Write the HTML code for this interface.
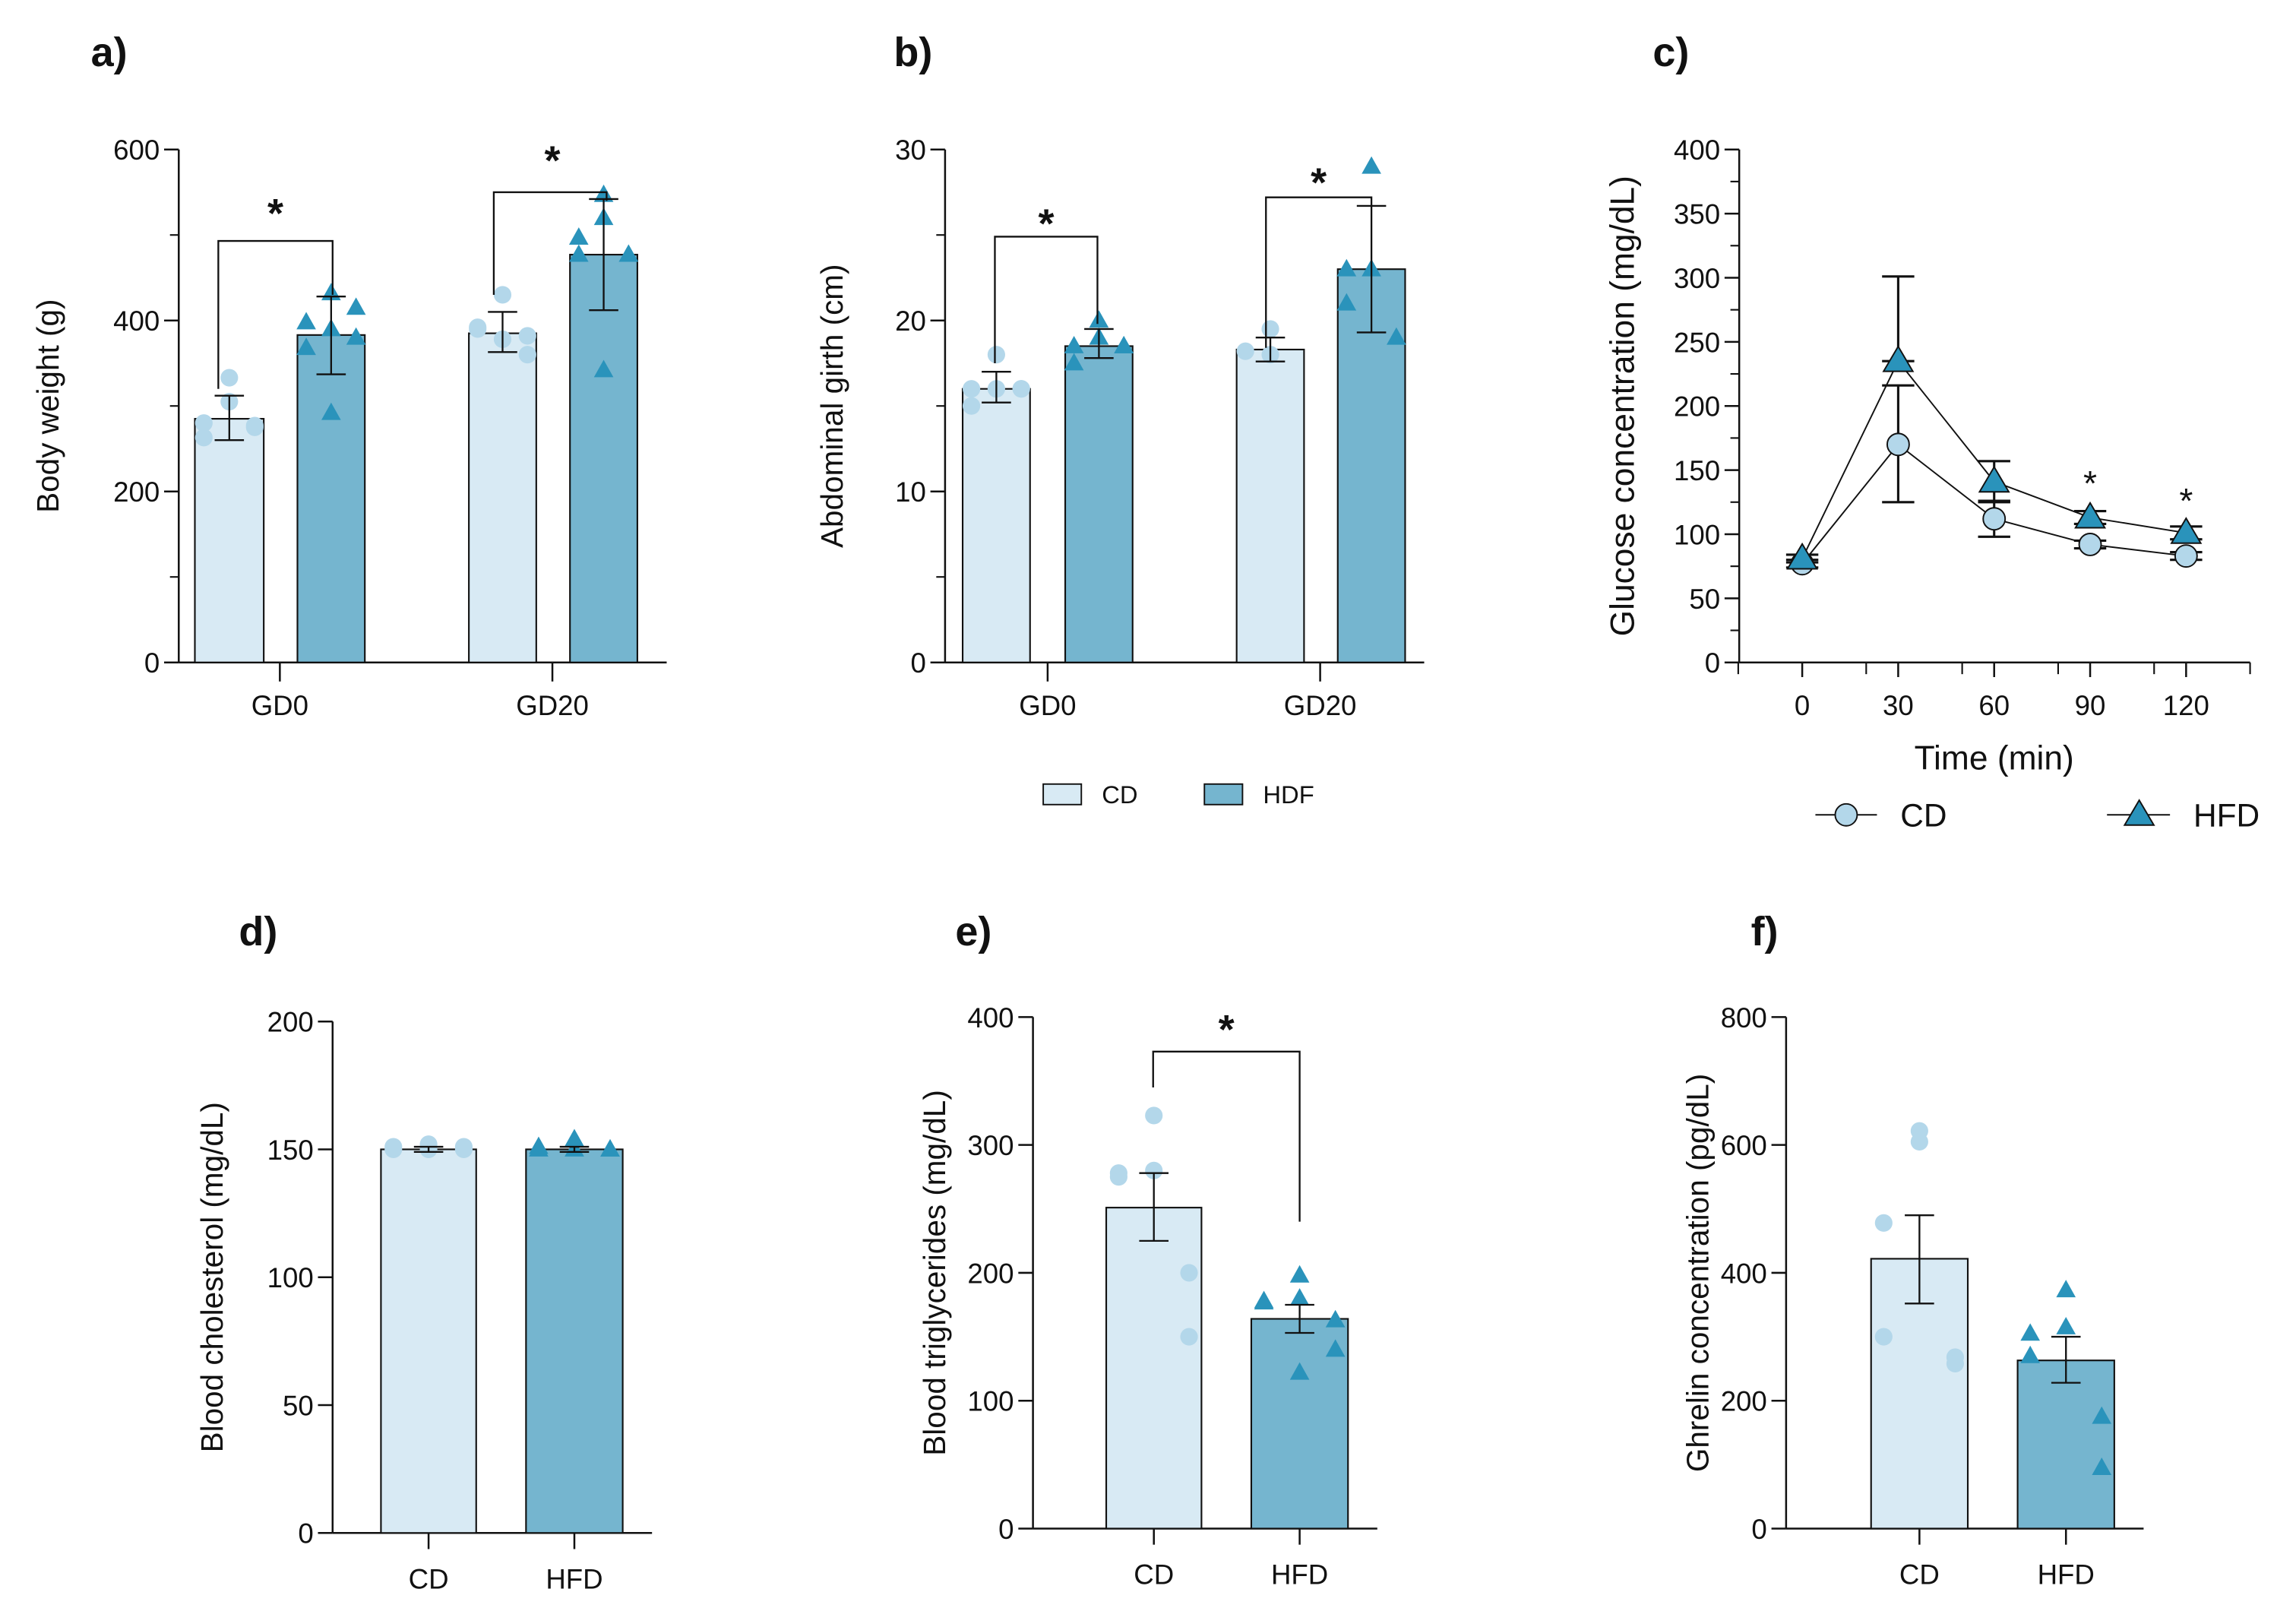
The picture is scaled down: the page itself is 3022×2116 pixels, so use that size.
<!DOCTYPE html>
<html><head><meta charset="utf-8">
<style>
html,body{margin:0;padding:0;background:#fff;}
svg{display:block;font-family:"Liberation Sans",Arial,sans-serif;}
</style></head>
<body>
<svg id="fig" width="3022" height="2116" viewBox="0 0 1567 1097.2" xmlns="http://www.w3.org/2000/svg"></svg>
<script>
// ---------- data ----------
const groupsA = ["GD0","GD20"];
const aCDMean = [285, 385], aCDLo = [260, 363], aCDHi = [312, 410];
const aHFMean = [383, 477], aHFLo = [337, 412], aHFHi = [428, 542];
const aCDPts = [[333,305,280,263,275,277],[430,378,392,390,360,382]];
const aHFPts = [[432,390,398,368,415,380,292],[547,520,497,477,477,477,342]];
const aTicks = [0,200,400,600];

const bCDMean = [16, 18.3], bCDLo = [15.2, 17.6], bCDHi = [17, 19];
const bHFMean = [18.5, 23], bHFLo = [17.8, 19.3], bHFHi = [19.5, 26.7];
const bCDPts = [[18,16,16,15,16,16],[19.5,18,18.2]];
const bHFPts = [[20,19,18.5,17.5,18.5,18.5],[29,23,23,21,19]];
const bTicks = [0,10,20,30];

const cTimes = [0,30,60,90,120];
const cCD = [77,170,112,92,83], cCDLo = [74,125,98,89,80], cCDHi = [80,216,126,95,86];
const cHF = [81,235,141,113,101], cHFLo = [78,235,125,108,96], cHFHi = [84,301,157,118,106];
const cYTicks = [0,50,100,150,200,250,300,350,400];
const cXTicks = [0,30,60,90,120];

const dGroups = ["CD","HFD"];
const dMean = [150,150], dLo = [149,149], dHi = [151,151];
const dPts = [[150,152,150,151,150,151],[154,150,151,150,150,150]];
const dTicks = [0,50,100,150,200];

const eMean = [251,164], eLo = [225,153], eHi = [278,175];
const ePts = [[323,280,278,275,200,150],[198,180,178,177,163,140,122]];
const eTicks = [0,100,200,300,400];

const fMean = [422,263], fLo = [352,228], fHi = [490,300];
const fPts = [[622,605,478,300,268,258],[373,315,305,270,175,95]];
const fTicks = [0,200,400,600,800];

// ---------- helpers ----------
const NS = "http://www.w3.org/2000/svg";
const svg = document.getElementById('fig');
const LIGHT="#d8eaf4", DARK="#75b5cf", LPT="#b3d7ea", DPT="#2a93bb";
function el(tag, attrs, parent){
  const e=document.createElementNS(NS,tag);
  for(const k in attrs) e.setAttribute(k,attrs[k]);
  (parent||svg).appendChild(e); return e;
}
function txt(x,y,s,size,anchor,weight,parent,rot){
  const t=el('text',{x:x,y:y,'font-size':size,'text-anchor':anchor||'middle','font-weight':weight||'normal',fill:'#111'},parent);
  if(rot) t.setAttribute('transform',`rotate(-90 ${x} ${y})`);
  t.textContent=s; return t;
}
function line(x1,y1,x2,y2,w,parent){return el('line',{x1:x1,y1:y1,x2:x2,y2:y2,stroke:'#111','stroke-width':w||1.2},parent);}
function tri(cx,cy,r,fill,parent){
  return el('polygon',{points:`${cx},${cy-r} ${cx-r*0.95},${cy+r*0.7} ${cx+r*0.95},${cy+r*0.7}`,fill:fill,stroke:'none'},parent);
}
const jit=[0,0,-17,-17,17,17,0];

function yAxis(g,ax,y0,ytop,max,ticks,minor,title,titleX,titleSize){
  const ys=v=>y0-(v/max)*(y0-ytop);
  line(ax,ytop,ax,y0,1.3,g);
  ticks.forEach(v=>{line(ax-10,ys(v),ax,ys(v),1.3,g);
    const t=txt(ax-13,ys(v)+7,String(v),19,'end','normal',g);
    
    });
  minor.forEach(v=>line(ax-6,ys(v),ax,ys(v),1.1,g));
  const tt=txt(titleX,(y0+ytop)/2,title,titleSize||21,'middle','normal',g,true);
  
  
  return ys;
}
function barWithPts(g,ys,x1,x2,mean,lo,hi,pts,fill,ptFill,shape){
  const b=el('rect',{x:x1,y:ys(mean),width:x2-x1,height:ys(0)-ys(mean),fill:fill,stroke:'#111','stroke-width':1.1},g);
  
  
  const cx=(x1+x2)/2;
  pts.forEach((v,i)=>{
    const px=cx+jit[i%jit.length]*(x2-x1)/46;
    const p = shape==='tri'? tri(px,ys(v),7,ptFill,g) : el('circle',{cx:px,cy:ys(v),r:6,fill:ptFill},g);
    
    
  });
  line(cx,ys(lo),cx,ys(hi),1.2,g);
  line(cx-10,ys(lo),cx+10,ys(lo),1.2,g);
  line(cx-10,ys(hi),cx+10,ys(hi),1.2,g);
}
function bracket(g,ys,xl,xr,yTop,yl,yr,sx,sy){
  el('polyline',{points:`${xl},${ys(yl)} ${xl},${ys(yTop)} ${xr},${ys(yTop)} ${xr},${ys(yr)}`,fill:'none',stroke:'#111','stroke-width':1.2},g);
  const s=txt(sx,sy,'*',28,'middle','bold',g);
  
  
}
function panelLabel(x,y,s){
  const t=txt(x,y,s,28,'start','bold');
  
  
}

// ---------- panel a ----------
panelLabel(62,45,'a)');
(function(){
  const g=el('g',{});
  
  
  const ys=yAxis(g,122,452,102,600,aTicks,[100,300,500],'Body weight (g)',40);
  line(122,452,455,452,1.3,g);
  const cd=[[133,180],[320,366]], hf=[[203,249],[389,435]], gc=[191,377];
  groupsA.forEach((n,i)=>{
    barWithPts(g,ys,cd[i][0],cd[i][1],aCDMean[i],aCDLo[i],aCDHi[i],aCDPts[i],LIGHT,LPT,'circ');
    barWithPts(g,ys,hf[i][0],hf[i][1],aHFMean[i],aHFLo[i],aHFHi[i],aHFPts[i],DARK,DPT,'tri');
    line(gc[i],452,gc[i],465,1.3,g);
    const t=txt(gc[i],488,n,19,'middle','normal',g);
    
    
  });
  bracket(g,ys,149,227,493,320,430,188,155);
  bracket(g,ys,337,414,550,430,540,377,119);
})();

// ---------- panel b ----------
panelLabel(610,45,'b)');
(function(){
  const g=el('g',{});
  
  
  const ys=yAxis(g,645,452,102,30,bTicks,[5,15,25],'Abdominal girth (cm)',575);
  line(645,452,972,452,1.3,g);
  const cd=[[657,703],[844,890]], hf=[[727,773],[913,959]], gc=[715,901];
  groupsA.forEach((n,i)=>{
    barWithPts(g,ys,cd[i][0],cd[i][1],bCDMean[i],bCDLo[i],bCDHi[i],bCDPts[i],LIGHT,LPT,'circ');
    barWithPts(g,ys,hf[i][0],hf[i][1],bHFMean[i],bHFLo[i],bHFHi[i],bHFPts[i],DARK,DPT,'tri');
    line(gc[i],452,gc[i],465,1.3,g);
    const t=txt(gc[i],488,n,19,'middle','normal',g);
    
    
  });
  bracket(g,ys,679,749,24.9,17.5,19.8,714,162);
  bracket(g,ys,864,936,27.2,18.4,26.7,900,134);
  const lg=el('g',{},g);
  
  
  el('rect',{x:712,y:535,width:26,height:14,fill:LIGHT,stroke:'#111','stroke-width':1},lg);
  txt(752,548,'CD',17,'start','normal',lg);
  el('rect',{x:822,y:535,width:26,height:14,fill:DARK,stroke:'#111','stroke-width':1},lg);
  txt(862,548,'HDF',17,'start','normal',lg);
})();

// ---------- panel c ----------
panelLabel(1128,45,'c)');
(function(){
  const g=el('g',{});
  
  
  const minor=[]; for(let v=25;v<400;v+=50) minor.push(v);
  const ys=yAxis(g,1187,452,102,400,cYTicks,minor,'Glucose concentration (mg/dL)',1115,23);
  const xs=t=>1230+t*(65.5/30);
  line(1187,452,xs(140),452,1.3,g);
  cXTicks.forEach(t=>{line(xs(t),452,xs(t),462,1.3,g);
    const l=txt(xs(t),488,String(t),19,'middle','normal',g);
    
    });
  [-20,20,50,80,110,140].forEach(t=>line(xs(t),452,xs(t),460,1.1,g));
  const xt=txt(1361,525,'Time (min)',23,'middle','normal',g);
  
  
  function series(vals,lo,hi,shape,fill,name){
    const sg=el('g',{},g);
    
    
    el('polyline',{points:cTimes.map((t,i)=>`${xs(t)},${ys(vals[i])}`).join(' '),fill:'none',stroke:'#111','stroke-width':1},sg);
    cTimes.forEach((t,i)=>{
      const x=xs(t);
      line(x,ys(lo[i]),x,ys(hi[i]),1.6,sg);
      line(x-11,ys(lo[i]),x+11,ys(lo[i]),1.6,sg);
      line(x-11,ys(hi[i]),x+11,ys(hi[i]),1.6,sg);
    });
    cTimes.forEach((t,i)=>{
      const x=xs(t),y=ys(vals[i]);
      let m;
      if(shape==='tri') m=el('polygon',{points:`${x},${y-10} ${x-10},${y+7} ${x+10},${y+7}`,fill:fill,stroke:'#111','stroke-width':1},sg);
      else m=el('circle',{cx:x,cy:y,r:7.5,fill:fill,stroke:'#111','stroke-width':1},sg);
      
      
    });
  }
  series(cCD,cCDLo,cCDHi,'circ','#b3d7ea','series-cd');
  series(cHF,cHFLo,cHFHi,'tri','#2a93bb','series-hfd');
  [90,120].forEach((t,i)=>{const s=txt(xs(t),[338,350][i],'*',24,'middle','normal',g);
    
    });
  const lg=el('g',{},g);
  
  
  line(1239,556,1281,556,1,lg);
  el('circle',{cx:1260,cy:556,r:7.5,fill:'#b3d7ea',stroke:'#111','stroke-width':1},lg);
  txt(1297,564,'CD',22,'start','normal',lg);
  line(1438,556,1481,556,1,lg);
  el('polygon',{points:'1460,546 1450,563 1470,563',fill:'#2a93bb',stroke:'#111','stroke-width':1},lg);
  txt(1497,564,'HFD',22,'start','normal',lg);
})();

// ---------- panels d,e,f ----------
function bottomPanel(name,ax,y0,ytop,max,ticks,title,titleX,bars,mean,lo,hi,pts){
  const g=el('g',{});
  
  
  const ys=yAxis(g,ax,y0,ytop,max,ticks,[],title,titleX);
  line(ax,y0,bars[1][1]+20,y0,1.3,g);
  dGroups.forEach((n,i)=>{
    barWithPts(g,ys,bars[i][0],bars[i][1],mean[i],lo[i],hi[i],pts[i],i?DARK:LIGHT,i?DPT:LPT,i?'tri':'circ');
    const cx=(bars[i][0]+bars[i][1])/2;
    line(cx,y0,cx,y0+11,1.3,g);
    const t=txt(cx,y0+38,n,19,'middle','normal',g);
    
    
  });
  return {g,ys};
}
panelLabel(163,645,'d)');
bottomPanel('panel-d-cholesterol',227,1046,697,200,dTicks,'Blood cholesterol (mg/dL)',152,[[260,325],[359,425]],dMean,dLo,dHi,dPts);
panelLabel(652,645,'e)');
(function(){
  const r=bottomPanel('panel-e-triglycerides',705,1043,694,400,eTicks,'Blood triglycerides (mg/dL)',645,[[755,820],[854,920]],eMean,eLo,eHi,ePts);
  bracket(r.g,r.ys,787,887,373,345,240,837,712);
})();
panelLabel(1195,645,'f)');
bottomPanel('panel-f-ghrelin',1219,1043,694,800,fTicks,'Ghrelin concentration (pg/dL)',1166,[[1277,1343],[1377,1443]],fMean,fLo,fHi,fPts);
</script>
</body></html>
